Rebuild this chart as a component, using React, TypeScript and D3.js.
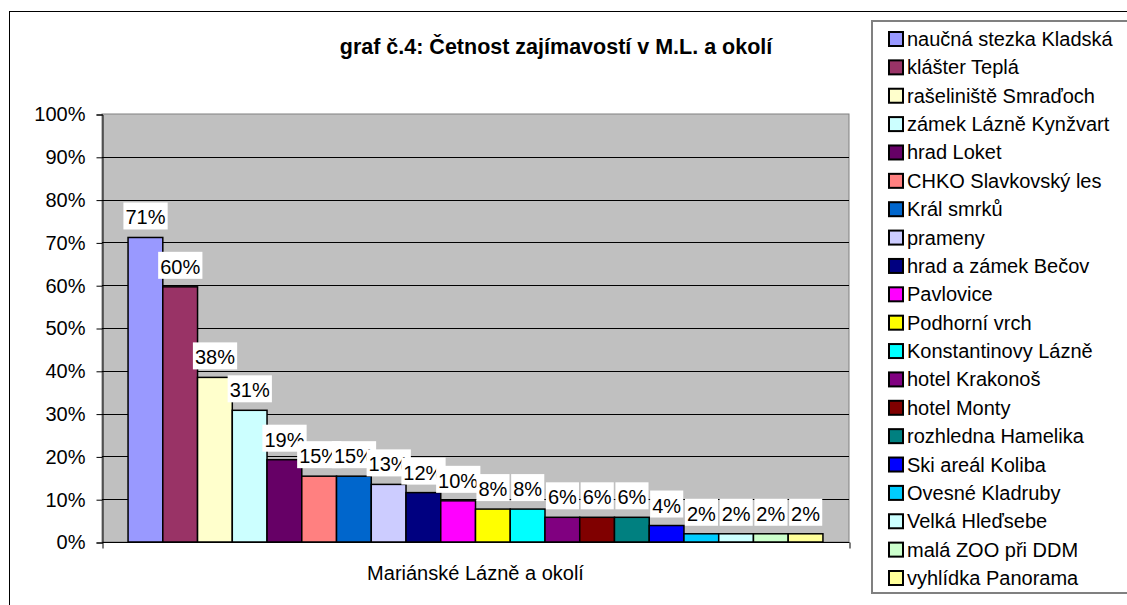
import * as d3 from 'd3';
import { useEffect, useRef } from 'react';

// one category, 20 series
const category = 'Mariánské Lázně a okolí';
const titleText = 'graf č.4: Četnost zajímavostí v M.L. a okolí';

const names = [
  'naučná stezka Kladská', 'klášter Teplá', 'rašeliniště Smraďoch', 'zámek Lázně Kynžvart',
  'hrad Loket', 'CHKO Slavkovský les', 'Král smrků', 'prameny', 'hrad a zámek Bečov',
  'Pavlovice', 'Podhorní vrch', 'Konstantinovy Lázně', 'hotel Krakonoš', 'hotel Monty',
  'rozhledna Hamelika', 'Ski areál Koliba', 'Ovesné Kladruby', 'Velká Hleďsebe',
  'malá ZOO při DDM', 'vyhlídka Panorama',
];

const values = [
  0.7115, 0.5962, 0.3846, 0.3077, 0.1923, 0.1538, 0.1538, 0.1346, 0.1154, 0.0962,
  0.0769, 0.0769, 0.0577, 0.0577, 0.0577, 0.0385, 0.0192, 0.0192, 0.0192, 0.0192,
];

const colors = [
  '#9999FF', '#993366', '#FFFFCC', '#CCFFFF', '#660066', '#FF8080', '#0066CC', '#CCCCFF',
  '#000080', '#FF00FF', '#FFFF00', '#00FFFF', '#800080', '#800000', '#008080', '#0000FF',
  '#00CCFF', '#CCFFFF', '#CCFFCC', '#FFFF99',
];

const yTicks = [0, 0.1, 0.2, 0.3, 0.4, 0.5, 0.6, 0.7, 0.8, 0.9, 1.0];

const FONT = '"Liberation Sans", Arial, sans-serif';

const App = () => {
  const ref = useRef<SVGSVGElement>(null);

  useEffect(() => {
    const svg = d3.select(ref.current);
    svg.selectAll('*').remove();

    const plot = { left: 102, right: 849, top: 114, bottom: 542 };

    // outer frame
    svg.append('rect')
      .attr('x', 9.5).attr('y', 11.5)
      .attr('width', 1200).attr('height', 700)
      .attr('fill', '#fff').attr('stroke', '#000').attr('stroke-width', 1);

    svg.append('text')
      .attr('x', 556).attr('y', 54)
      .attr('text-anchor', 'middle')
      .attr('font-family', FONT).attr('font-weight', 'bold').attr('font-size', 21.5)
      .text(titleText);

    const y = d3.scaleLinear().domain([0, 1]).range([plot.bottom, plot.top]);
    const x0 = d3.scaleBand().domain([category]).range([plot.left, plot.right]);
    const x1 = d3.scaleBand<number>()
      .domain(d3.range(values.length))
      .range([x0(category)!, x0(category)! + x0.bandwidth()])
      .paddingInner(0)
      .paddingOuter(0.75);

    svg.append('rect')
      .attr('x', plot.left).attr('y', plot.top)
      .attr('width', plot.right - plot.left).attr('height', plot.bottom - plot.top)
      .attr('fill', '#C0C0C0').attr('stroke', '#808080').attr('stroke-width', 1);

    svg.append('g')
      .selectAll('line')
      .data(yTicks.slice(1, -1))
      .join('line')
      .attr('x1', plot.left).attr('x2', plot.right)
      .attr('y1', d => Math.round(y(d)) + 0.5).attr('y2', d => Math.round(y(d)) + 0.5)
      .attr('stroke', '#000').attr('stroke-width', 1);

    // y axis
    const yAxis = svg.append('g')
      .attr('transform', `translate(${plot.left + 0.5},0.5)`)
      .call(d3.axisLeft(y).tickValues(yTicks).tickFormat(d3.format('.0%')).tickSize(6).tickPadding(11));
    yAxis.select('.domain').attr('stroke', '#000');
    yAxis.selectAll('line').attr('stroke', '#000');
    yAxis.selectAll('text').attr('font-family', FONT).attr('font-size', 20).attr('fill', '#000');

    // x axis
    const xAxis = svg.append('g')
      .attr('transform', `translate(0.5,${plot.bottom + 0.5})`)
      .call(d3.axisBottom(d3.scaleLinear().domain([0, 1]).range([plot.left, plot.right]))
        .tickValues([0, 1]).tickSize(6).tickFormat(() => ''));
    xAxis.select('.domain').attr('stroke', '#000').attr('d', `M${plot.left},0H${plot.right}`);
    xAxis.selectAll('line').attr('stroke', '#000');

    svg.append('text')
      .attr('x', (x0(category)! + x0.bandwidth() / 2))
      .attr('y', 580)
      .attr('text-anchor', 'middle')
      .attr('font-family', FONT).attr('font-size', 20)
      .text(category);

    // bars
    svg.append('g')
      .selectAll('rect')
      .data(values)
      .join('rect')
      .attr('x', (_, i) => x1(i)!)
      .attr('y', d => y(d))
      .attr('width', x1.bandwidth())
      .attr('height', d => plot.bottom - y(d))
      .attr('fill', (_, i) => colors[i])
      .attr('stroke', '#000').attr('stroke-width', 1.5);

    // data labels with white boxes, later ones on top
    const fmt = d3.format('.0%');
    values.forEach((v, i) => {
      const cx = x1(i)! + x1.bandwidth() / 2;
      const top = y(v);
      const g = svg.append('g');
      const box = g.append('rect').attr('fill', '#fff');
      const t = g.append('text')
        .attr('x', cx).attr('y', top - 13)
        .attr('text-anchor', 'middle')
        .attr('font-family', FONT).attr('font-size', 20)
        .text(fmt(v));
      const bb = (t.node() as SVGTextElement).getBBox();
      box.attr('x', bb.x - 2).attr('y', top - 35)
        .attr('width', bb.width + 4).attr('height', 27);
    });

    // legend
    const lg = svg.append('g');
    lg.append('rect')
      .attr('x', 872).attr('y', 21)
      .attr('width', 270).attr('height', 572)
      .attr('fill', '#fff').attr('stroke', '#808080').attr('stroke-width', 2);
    const ly = d3.scalePoint<number>().domain(d3.range(names.length)).range([39, 578]);
    const items = lg.selectAll('g.item')
      .data(names)
      .join('g')
      .attr('class', 'item')
      .attr('transform', (_, i) => `translate(0,${ly(i)})`);
    items.append('rect')
      .attr('x', 889).attr('y', -7)
      .attr('width', 14).attr('height', 14)
      .attr('fill', (_, i) => colors[i])
      .attr('stroke', '#000').attr('stroke-width', 2);
    items.append('text')
      .attr('x', 907).attr('y', 7)
      .attr('font-family', FONT).attr('font-size', 20)
      .text(d => d);
  }, []);

  return (
    <svg ref={ref} width={1127} height={605}
      style={{ position: 'absolute', left: 0, top: 0, background: '#fff' }} />
  );
};

export default App;
